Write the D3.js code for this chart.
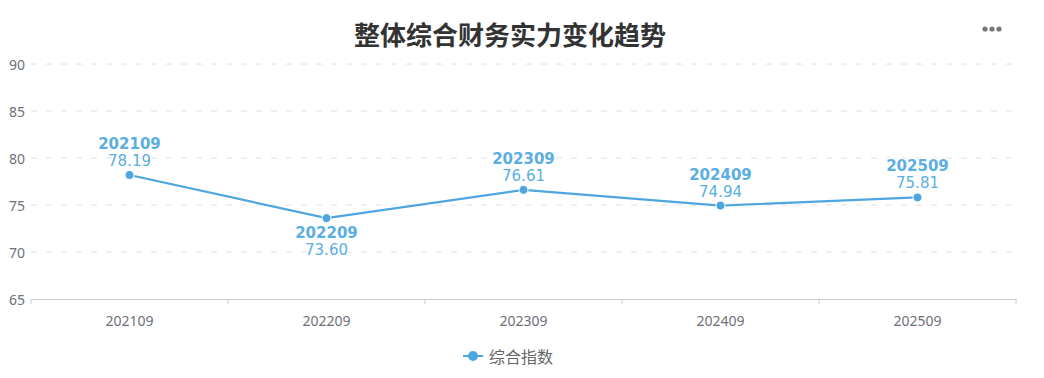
<!DOCTYPE html>
<html>
<head>
<meta charset="utf-8">
<script src="https://cdn.jsdelivr.net/npm/d3@7"></script>
<style>
  body { margin: 0; background: #fff; }
  svg { display: block; font-family: "Noto Sans", "Noto Sans CJK SC", sans-serif; }
</style>
</head>
<body>
<svg width="1044" height="378"></svg>
<script>
const periods = ["202109", "202209", "202309", "202409", "202509"];
const scores = [78.19, 73.60, 76.61, 74.94, 75.81];
const yTicks = [65, 70, 75, 80, 85, 90];
const seriesName = "综合指数";
const title = "整体综合财务实力变化趋势";

const margin = { top: 64, right: 28, bottom: 79, left: 31 },
      width = 1044 - margin.left - margin.right,
      height = 378 - margin.top - margin.bottom;

const lineColor = "#4ea6e0";
const labelColor = "#5aaee2";

const svg = d3.select("svg");

svg.append("text")
  .attr("x", 510)
  .attr("y", 33)
  .attr("text-anchor", "middle")
  .attr("dominant-baseline", "central")
  .style("font-family", "'Noto Sans CJK SC', sans-serif")
  .style("font-size", "26px")
  .style("font-weight", "bold")
  .style("fill", "#333")
  .text(title);

// menu dots
svg.selectAll(".menu")
  .data([0, 1, 2])
  .enter()
  .append("circle")
  .attr("cx", i => 985 + i * 7)
  .attr("cy", 29)
  .attr("r", 2.6)
  .style("fill", "#777");

const g = svg.append("g")
  .attr("transform", `translate(${margin.left},${margin.top})`);

const x = d3.scaleBand()
  .domain(periods)
  .range([0, width]);

const y = d3.scaleLinear()
  .domain([65, 90])
  .range([height, 0]);

// grid
g.selectAll(".grid")
  .data(yTicks.filter(t => t !== 65))
  .enter()
  .append("line")
  .attr("x1", 0)
  .attr("x2", width)
  .attr("y1", d => y(d))
  .attr("y2", d => y(d))
  .style("stroke", "#e0e0e0")
  .style("stroke-dasharray", "6,9");

// y labels
g.selectAll(".ylab")
  .data(yTicks)
  .enter()
  .append("text")
  .attr("x", -6)
  .attr("y", d => y(d))
  .attr("text-anchor", "end")
  .attr("dominant-baseline", "central")
  .style("font-size", "14px")
  .style("fill", "#6e7079")
  .text(d => d);

// x axis
const xAxis = g.append("g")
  .attr("transform", `translate(0,${height})`)
  .call(d3.axisBottom(x).tickSize(0).tickPadding(17));
xAxis.select(".domain").style("stroke", "#ccc").style("stroke-width", 1.2);
xAxis.selectAll("text")
  .style("font-size", "14px")
  .style("font-family", "'Noto Sans', sans-serif")
  .style("fill", "#6e7079");

g.selectAll(".xtick")
  .data(d3.range(periods.length + 1))
  .enter()
  .append("line")
  .attr("x1", i => i * x.step())
  .attr("x2", i => i * x.step())
  .attr("y1", height)
  .attr("y2", height + 5)
  .style("stroke", "#ccc");

const pts = periods.map((p, i) => ({ period: p, value: scores[i] }));
const minVal = d3.min(scores);

g.append("path")
  .datum(pts)
  .attr("d", d3.line()
    .x(d => x(d.period) + x.bandwidth() / 2)
    .y(d => y(d.value)))
  .style("fill", "none")
  .style("stroke", lineColor)
  .style("stroke-width", 2.2);

g.selectAll(".pt")
  .data(pts)
  .enter()
  .append("circle")
  .attr("cx", d => x(d.period) + x.bandwidth() / 2)
  .attr("cy", d => y(d.value))
  .attr("r", 4.5)
  .style("fill", lineColor)
  .style("stroke", "#fff")
  .style("stroke-width", 1);

// point labels
const labels = g.selectAll(".lab")
  .data(pts)
  .enter()
  .append("g")
  .attr("transform", d => {
    const below = d.value === minVal;
    return `translate(${x(d.period) + x.bandwidth() / 2},${y(d.value) + (below ? 15 : -31)})`;
  });

labels.append("text")
  .attr("text-anchor", "middle")
  .attr("dominant-baseline", "central")
  .style("font-family", "'DejaVu Sans', sans-serif")
  .style("font-size", "15px")
  .style("font-weight", "bold")
  .style("fill", labelColor)
  .style("stroke", "#fff")
  .style("stroke-width", 2)
  .style("paint-order", "stroke")
  .text(d => d.period);

labels.append("text")
  .attr("y", 17)
  .attr("text-anchor", "middle")
  .attr("dominant-baseline", "central")
  .style("font-family", "'DejaVu Sans', sans-serif")
  .style("font-size", "15px")
  .style("fill", labelColor)
  .style("stroke", "#fff")
  .style("stroke-width", 2)
  .style("paint-order", "stroke")
  .text(d => d.value.toFixed(2));

// legend
const lg = svg.append("g").attr("transform", "translate(463,356)");
lg.append("line")
  .attr("x1", 0).attr("x2", 20)
  .style("stroke", lineColor)
  .style("stroke-width", 2);
lg.append("circle")
  .attr("cx", 10)
  .attr("r", 5)
  .style("fill", lineColor);
lg.append("text")
  .attr("x", 26)
  .attr("dominant-baseline", "central")
  .style("font-family", "'Noto Sans CJK SC', sans-serif")
  .style("font-size", "16px")
  .style("fill", "#666")
  .text(seriesName);
</script>
</body>
</html>
